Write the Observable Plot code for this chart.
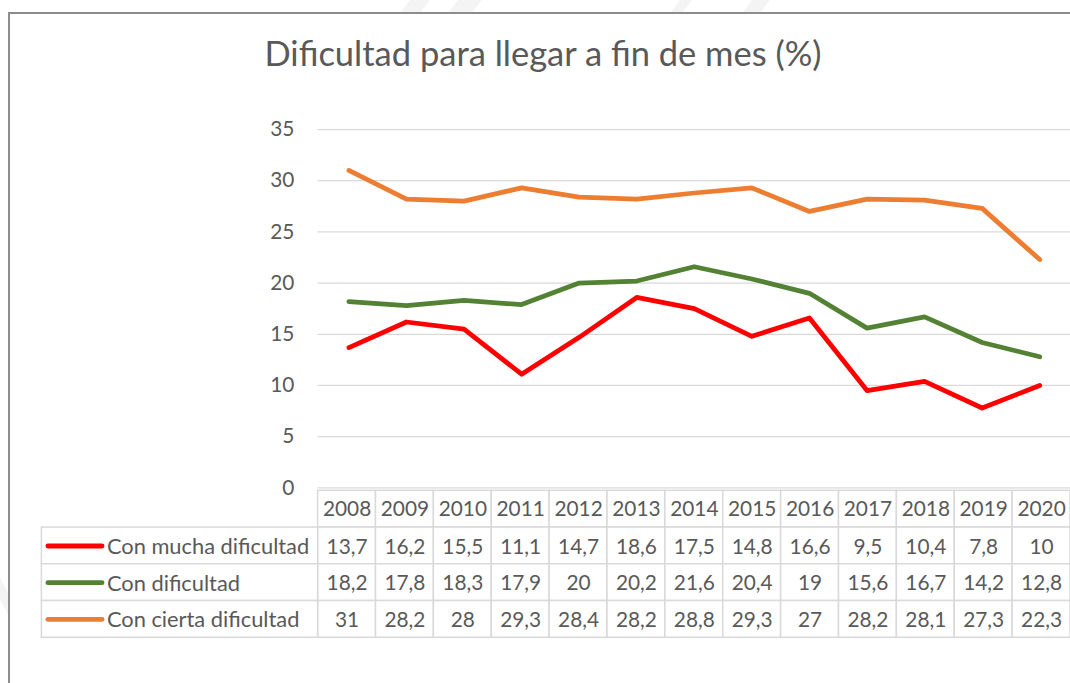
<!DOCTYPE html>
<html><head><meta charset="utf-8">
<script src="https://cdn.jsdelivr.net/npm/d3@7"></script>
<script src="https://cdn.jsdelivr.net/npm/@observablehq/plot@0.6"></script>
<style>
html,body{margin:0;padding:0;background:#fff;overflow:hidden}
#wrap{position:relative;width:1070px;height:683px;overflow:hidden;font-family:Lato,sans-serif;background:#fff}
#wrap svg{position:absolute;left:0;top:0;overflow:visible}
#title{position:absolute;left:543px;top:33.4px;transform:translateX(-50%);white-space:nowrap;font-size:34.5px;line-height:40px;color:#595959;font-family:Lato,sans-serif}
.frameTop{position:absolute;left:9px;top:12px;width:1070px;height:2px;background:#8c8c8c}
.frameLeft{position:absolute;left:8px;top:12px;width:2px;height:680px;background:#8c8c8c}
</style></head>
<body><div id="wrap">
<svg id="bg" width="1070" height="683" style="position:absolute;left:0;top:0">
  <polygon points="400,13 410,0 430,0 420,13" fill="#f4f4f4"/>
  <polygon points="448,13 458,0 482,0 472,13" fill="#f4f4f4"/>
  <polygon points="670,13 680,0 692,0 682,13" fill="#f4f4f4"/>
  <polygon points="742,13 752,0 770,0 760,13" fill="#f4f4f4"/>
  <polygon points="0,578 9,594 9,616 0,600" fill="#f4f4f4"/>
</svg>
<div class="frameTop"></div><div class="frameLeft"></div>
<div id="title">Dificultad para llegar a fin de mes (%)</div>
</div>
<script>
const years = [2008, 2009, 2010, 2011, 2012, 2013, 2014, 2015, 2016, 2017, 2018, 2019, 2020];
const seriesNames = ["Con mucha dificultad", "Con dificultad", "Con cierta dificultad"];
const seriesColors = ["#ff0000", "#548235", "#ed7d31"];
const conMuchaDificultad = [13.7, 16.2, 15.5, 11.1, 14.7, 18.6, 17.5, 14.8, 16.6, 9.5, 10.4, 7.8, 10];
const conDificultad = [18.2, 17.8, 18.3, 17.9, 20, 20.2, 21.6, 20.4, 19, 15.6, 16.7, 14.2, 12.8];
const conCiertaDificultad = [31, 28.2, 28, 29.3, 28.4, 28.2, 28.8, 29.3, 27, 28.2, 28.1, 27.3, 22.3];
const yTicks = [0, 5, 10, 15, 20, 25, 30, 35];
const headerLabel = "Año";

const seriesValues = [conMuchaDificultad, conDificultad, conCiertaDificultad];
const rows = seriesNames.flatMap((s, k) => years.map((yr, i) => ({series: s, year: yr, value: seriesValues[k][i]})));
const fmt = v => String(v).replace(".", ",");

const W = 1078, PLOT_LEFT = 320, TABLE_LEFT = 41.7;
const BAND = (W - PLOT_LEFT) / years.length;
const xMin = years[0] - 0.5 - (PLOT_LEFT - TABLE_LEFT) / BAND;
const TXT = "#595959", GRID = "#d9d9d9";
const wrap = document.getElementById("wrap");

const chart = Plot.plot({
  width: W, height: 500,
  marginTop: 130, marginBottom: 9, marginLeft: PLOT_LEFT, marginRight: 0,
  style: {fontFamily: "Lato, sans-serif", background: "transparent", overflow: "visible"},
  x: {type: "point", domain: years, padding: 0.5, axis: null},
  y: {domain: [0, 35], axis: null},
  color: {domain: seriesNames, range: seriesColors},
  marks: [
    Plot.ruleY(yTicks, {stroke: GRID, strokeWidth: 1.3}),
    Plot.text(yTicks, {y: d => d, frameAnchor: "left", dx: -24, textAnchor: "end", text: d => String(d), fill: TXT, fontSize: 21}),
    Plot.line(rows, {x: "year", y: "value", z: "series", stroke: "series", strokeWidth: 4.8, strokeLinejoin: "round", strokeLinecap: "round"})
  ]
});
wrap.appendChild(chart);

const table = Plot.plot({
  width: W, height: 683,
  marginTop: 492.3, marginBottom: 683 - 643.3, marginLeft: TABLE_LEFT, marginRight: 0,
  style: {fontFamily: "Lato, sans-serif", background: "transparent", overflow: "visible"},
  x: {type: "linear", domain: [xMin, years[years.length - 1] + 0.5], axis: null},
  y: {type: "band", domain: [headerLabel, ...seriesNames], padding: 0, axis: null},
  color: {domain: seriesNames, range: seriesColors},
  marks: [
    Plot.barX(years, {x1: d => d - 0.5, x2: d => d + 0.5, y: () => headerLabel, fill: "white", stroke: GRID, strokeWidth: 1.5}),
    Plot.barX(rows, {x1: d => d.year - 0.5, x2: d => d.year + 0.5, y: "series", fill: "white", stroke: GRID, strokeWidth: 1.5}),
    Plot.barX(seriesNames, {x1: () => xMin, x2: () => years[0] - 0.5, y: d => d, fill: "white", stroke: GRID, strokeWidth: 1.5}),
    Plot.text(years, {x: d => d, y: () => headerLabel, text: d => String(d), fill: TXT, fontSize: 21}),
    Plot.text(rows, {x: "year", y: "series", text: d => fmt(d.value), fill: TXT, fontSize: 21, dy: 1}),
    Plot.ruleY(seriesNames, {y: d => d, x1: () => xMin + 6.6 / BAND, x2: () => xMin + 61 / BAND, stroke: d => d, strokeWidth: 5, strokeLinecap: "round"}),
    Plot.text(seriesNames, {x: () => xMin, dx: 65.5, y: d => d, text: d => d, textAnchor: "start", fill: TXT, fontSize: 22, dy: 1})
  ]
});
wrap.appendChild(table);
</script>
</body></html>
